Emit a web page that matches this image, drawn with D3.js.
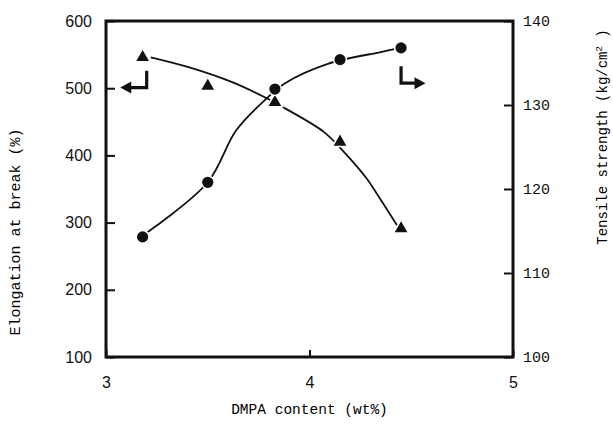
<!DOCTYPE html>
<html>
<head>
<meta charset="utf-8">
<script src="https://cdn.jsdelivr.net/npm/d3@7"></script>
<style>
  body { margin: 0; background: #fff; }
  .tick text { fill: #111; }
</style>
</head>
<body>
<div id="chart"></div>
<script>
// data
var dmpa = [3.18, 3.5, 3.83, 4.15, 4.45];
var elongation = [546, 503, 479, 420, 291];        // triangles, left axis (%)
var strength = [114.3, 120.8, 131.9, 135.4, 136.8]; // circles, right axis (kg/cm2)

// hand drawn fit curves in the figure
var elongFitX = [3.22, 3.41, 3.62, 3.79, 3.88, 4.07, 4.17, 4.28, 4.35, 4.43];
var elongFitY = [546, 531, 509, 485, 470, 435, 405, 366, 334, 296];
var strFitX = [3.2, 3.5, 3.64, 3.79, 3.88, 4.09, 4.35, 4.43];
var strFitY = [114.8, 120.8, 127.0, 130.8, 132.6, 134.9, 136.3, 136.7];

var xTicks = [3, 4, 5];
var leftTicks = [100, 200, 300, 400, 500, 600];
var rightTicks = [100, 110, 120, 130, 140];

// set the dimensions and margins of the graph
var margin = {top: 21, right: 100, bottom: 69, left: 106},
    width = 613 - margin.left - margin.right,
    height = 426 - margin.top - margin.bottom;

var svg = d3.select("#chart")
  .append("svg")
    .attr("width", 613)
    .attr("height", 426)
  .append("g")
    .attr("transform", "translate(" + margin.left + "," + margin.top + ")");

var x = d3.scaleLinear().domain([3, 5]).range([0, width]);
var yL = d3.scaleLinear().domain([100, 600]).range([height, 0]);
var yR = d3.scaleLinear().domain([100, 140]).range([height, 0]);

// axes
var xAxis = svg.append("g")
  .attr("transform", "translate(0," + height + ")")
  .call(d3.axisBottom(x).tickValues(xTicks).tickFormat(d3.format("d"))
    .tickSizeInner(-7).tickSizeOuter(0).tickPadding(20));

var leftAxis = svg.append("g")
  .call(d3.axisLeft(yL).tickValues(leftTicks)
    .tickSizeInner(-9).tickSizeOuter(0).tickPadding(14));

var rightAxis = svg.append("g")
  .attr("transform", "translate(" + width + ",0)")
  .call(d3.axisRight(yR).tickValues(rightTicks)
    .tickSizeInner(-9).tickSizeOuter(0).tickPadding(10));

svg.selectAll(".domain").remove();
svg.selectAll(".tick line").attr("stroke", "#111").attr("stroke-width", 2);
xAxis.selectAll("text").style("font-family", "Liberation Sans").style("font-size", "16px");
leftAxis.selectAll("text").style("font-family", "Liberation Sans").style("font-size", "16px");
rightAxis.selectAll("text").style("font-family", "Liberation Mono").style("font-size", "15px");

// frame
svg.append("rect")
  .attr("width", width)
  .attr("height", height)
  .attr("fill", "none")
  .attr("stroke", "#111")
  .attr("stroke-width", 3);

// fit curves
var elongLine = d3.line()
  .x(function (d, i) { return x(elongFitX[i]); })
  .y(function (d) { return yL(d); })
  .curve(d3.curveCatmullRom);
var strLine = d3.line()
  .x(function (d, i) { return x(strFitX[i]); })
  .y(function (d) { return yR(d); })
  .curve(d3.curveCatmullRom);

svg.append("path")
  .attr("d", elongLine(elongFitY))
  .attr("fill", "none")
  .attr("stroke", "#111")
  .attr("stroke-width", 1.8);
svg.append("path")
  .attr("d", strLine(strFitY))
  .attr("fill", "none")
  .attr("stroke", "#111")
  .attr("stroke-width", 1.8);

// markers
svg.selectAll(".tri")
  .data(elongation)
  .enter().append("path")
    .attr("class", "tri")
    .attr("d", d3.symbol().type(d3.symbolTriangle).size(70))
    .attr("transform", function (d, i) { return "translate(" + x(dmpa[i]) + "," + yL(d) + ")"; })
    .attr("fill", "#111")
    .attr("stroke", "#fff")
    .attr("stroke-width", 3)
    .style("paint-order", "stroke");

svg.selectAll(".dot")
  .data(strength)
  .enter().append("circle")
    .attr("class", "dot")
    .attr("cx", function (d, i) { return x(dmpa[i]); })
    .attr("cy", function (d) { return yR(d); })
    .attr("r", 5.6)
    .attr("fill", "#111")
    .attr("stroke", "#fff")
    .attr("stroke-width", 3)
    .style("paint-order", "stroke");

// bent arrows pointing to each series' axis
function bentArrow(x0, y0, y1, x1) {
  var dir = x1 < x0 ? -1 : 1;
  svg.append("path")
    .attr("d", "M" + x0 + "," + y0 + "V" + y1 + "H" + (x1 - dir * 8))
    .attr("fill", "none")
    .attr("stroke", "#111")
    .attr("stroke-width", 3.2);
  svg.append("path")
    .attr("d", "M" + x1 + "," + y1 + "L" + (x1 - dir * 11) + "," + (y1 - 6) +
               "L" + (x1 - dir * 11) + "," + (y1 + 6) + "Z")
    .attr("fill", "#111");
}
bentArrow(x(3.2), yL(526), yL(501), x(3.07));
bentArrow(x(4.45), yR(134.6), yR(132.6), x(4.57));

// axis labels
svg.append("text")
  .attr("transform", "rotate(-90)")
  .attr("x", -(yL(286)))
  .attr("y", -86)
  .attr("text-anchor", "middle")
  .style("font-family", "Liberation Mono")
  .style("font-size", "15px")
  .text("Elongation at break (%)");

svg.append("text")
  .attr("transform", "rotate(-90)")
  .attr("x", -116)
  .attr("y", width + 94)
  .attr("text-anchor", "middle")
  .style("font-family", "Liberation Mono")
  .style("font-size", "14px")
  .html("Tensile strength (kg/cm<tspan dy='-5' font-size='9px'>2</tspan><tspan dy='5'> )</tspan>");

svg.append("text")
  .attr("x", x(4))
  .attr("y", height + 57)
  .attr("text-anchor", "middle")
  .style("font-family", "Liberation Mono")
  .style("font-size", "14.5px")
  .text("DMPA content (wt%)");
</script>
</body>
</html>
